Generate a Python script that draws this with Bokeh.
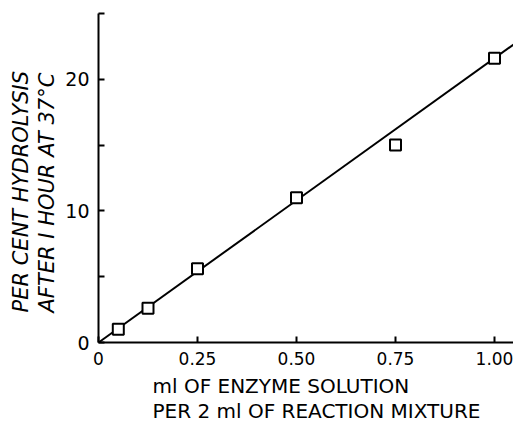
from bokeh.plotting import figure
from bokeh.models import Range1d, FixedTicker, Title
from bokeh.embed import file_html
from bokeh.resources import INLINE

# data
enzyme_ml = [0.05, 0.125, 0.25, 0.50, 0.75, 1.00]
hydrolysis_pct = [1.0, 2.6, 5.6, 11.0, 15.0, 21.6]
fit_x = [0.0, 1.06]
fit_y = [0.0, 22.9]

x_ticks = [0, 0.25, 0.5, 0.75, 1.0]
x_tick_labels = ["0", "0.25", "0.50", "0.75", "1.00"]
y_ticks = [0, 5, 10, 15, 20, 25]
y_tick_labels = ["0", "", "10", "", "20", ""]

x_title_lines = ["ml OF ENZYME SOLUTION", "PER 2 ml OF REACTION MIXTURE"]
y_title_lines = ["PER CENT HYDROLYSIS", "AFTER I HOUR AT 37°C"]

FONT = "DejaVu Sans"

p = figure(width=513, height=422, output_backend="svg", toolbar_location=None,
           x_range=Range1d(0, 1.048), y_range=Range1d(0, 25),
           min_border_left=98, min_border_right=0, min_border_top=13, min_border_bottom=80)
p.outline_line_color = None
p.grid.visible = False
p.background_fill_color = "white"

p.line(fit_x, fit_y, line_color="black", line_width=2)
p.scatter(enzyme_ml, hydrolysis_pct, marker="square", size=11,
          fill_color="white", line_color="black", line_width=2)

for ax in (p.xaxis[0], p.yaxis[0]):
    ax.axis_line_width = 2
    ax.axis_line_color = "black"
    ax.major_tick_line_width = 2
    ax.major_tick_line_color = "black"
    ax.major_tick_out = 0
    ax.major_tick_in = 6
    ax.minor_tick_line_color = None
    ax.major_label_text_font = FONT
    ax.major_label_text_color = "black"

p.xaxis.ticker = FixedTicker(ticks=x_ticks)
p.xaxis.major_label_overrides = {float(t): l for t, l in zip(x_ticks, x_tick_labels)}
p.xaxis.major_label_text_font_size = "17px"
p.xaxis.major_label_standoff = 9

p.yaxis.ticker = FixedTicker(ticks=y_ticks)
p.yaxis.major_label_overrides = {t: l for t, l in zip(y_ticks, y_tick_labels)}
p.yaxis.major_label_text_font_size = "19px"
p.yaxis.major_label_standoff = 9

# axis titles (stacked outward from the frame)
x_standoffs = [8, -10]
for txt, so in zip(x_title_lines, x_standoffs):
    p.add_layout(Title(text=txt, align="left", offset=54, text_font=FONT,
                       text_font_size="20px", text_font_style="normal",
                       text_color="black", standoff=so), "below")
y_standoffs = [7, -6]
for txt, so in zip(reversed(y_title_lines), y_standoffs):
    p.add_layout(Title(text=txt, align="left", offset=30, text_font=FONT,
                       text_font_size="21px", text_font_style="italic",
                       text_color="black", standoff=so), "left")

open("out.html", "w").write(file_html(p, INLINE))
